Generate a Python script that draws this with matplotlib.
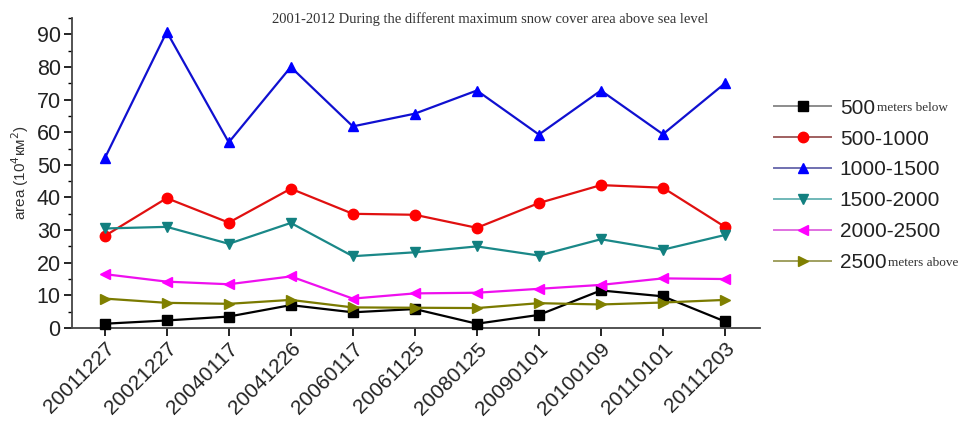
import matplotlib
matplotlib.use("Agg")
import matplotlib.pyplot as plt
from matplotlib.lines import Line2D
from matplotlib.ticker import MultipleLocator

dates = ["20011227", "20021227", "20040117", "20041226", "20060117", "20061125",
         "20080125", "20090101", "20100109", "20110101", "20111203"]

below_500 = [1.3, 2.3, 3.5, 7.0, 4.8, 5.8, 1.3, 4.0, 11.5, 9.7, 2.0]
m500_1000 = [28.2, 39.8, 32.3, 42.7, 35.0, 34.7, 30.7, 38.3, 43.8, 43.0, 31.0]
m1000_1500 = [52.0, 90.8, 56.9, 80.0, 61.8, 65.7, 72.8, 59.3, 72.8, 59.4, 75.0]
m1500_2000 = [30.5, 31.0, 25.8, 32.2, 22.0, 23.2, 25.0, 22.2, 27.2, 24.0, 28.5]
m2000_2500 = [16.5, 14.2, 13.4, 15.8, 9.0, 10.6, 10.8, 12.0, 13.2, 15.2, 15.0]
above_2500 = [9.0, 7.7, 7.4, 8.6, 6.3, 6.2, 6.1, 7.6, 7.2, 7.8, 8.6]

labels = ["500", "500-1000", "1000-1500", "1500-2000", "2000-2500", "2500"]
series = [below_500, m500_1000, m1000_1500, m1500_2000, m2000_2500, above_2500]
colors = ["#000000", "#e01010", "#1010d0", "#1a8888", "#ee10ee", "#7a7a00"]
marker_colors = ["#000000", "#ff0000", "#0000ff", "#128080", "#ff00ff", "#808000"]
legend_line_colors = ["#8c8c8c", "#a06060", "#7070b0", "#70b8b8", "#e070e0", "#a0a060"]
markers = ["s", "o", "^", "v", "<", ">"]

plt.rcParams["font.family"] = ["Liberation Sans", "DejaVu Sans"]

fig = plt.figure(figsize=(9.71, 4.21), dpi=100)
ax = fig.add_axes([0.074, 0.221, 0.709, 0.736])

x = list(range(len(dates)))
for vals, c, mc, m in zip(series, colors, marker_colors, markers):
    ax.plot(x, vals, color=c, lw=1.6, marker=m, markersize=7.5,
            markerfacecolor=mc, markeredgecolor=mc, clip_on=False, zorder=3)

ax.set_xlim(-0.53, 10.57)
ax.set_ylim(0, 95)
ax.set_xticks(x)
ax.set_xticklabels(dates, rotation=45, ha="right", rotation_mode="anchor",
                   fontsize=15, color="#222222")
ax.yaxis.set_major_locator(MultipleLocator(10))
ax.yaxis.set_minor_locator(MultipleLocator(5))
ax.tick_params(axis="y", labelsize=15.5, labelcolor="#222222", length=6, width=1.2, pad=2)
ax.tick_params(axis="y", which="minor", length=3, width=1)
ax.tick_params(axis="x", length=6, width=1.2, pad=2)
for s in ["top", "right"]:
    ax.spines[s].set_visible(False)
for s in ["left", "bottom"]:
    ax.spines[s].set_linewidth(1.3)
    ax.spines[s].set_color("#444444")

ax.set_ylabel("area (10$^4$км$^2$)", fontsize=11, color="#333333", labelpad=4)

fig.text(0.505, 0.955, "2001-2012 During the different maximum snow cover area above sea level",
         ha="center", va="center", fontsize=10.5, family="Liberation Serif", color="#333333")

handles = [Line2D([0], [0], color=lc, lw=1.4, marker=m, markersize=7.5,
                  markerfacecolor=mc, markeredgecolor=mc)
           for lc, mc, m in zip(legend_line_colors, marker_colors, markers)]
leg = fig.legend(handles, labels, loc="upper left", bbox_to_anchor=(0.778, 0.81),
                 frameon=False, fontsize=15, handlelength=2.75, handletextpad=0.4,
                 labelspacing=0.57)
for t in leg.get_texts():
    t.set_color("#222222")

fig.canvas.draw()
inv = fig.transFigure.inverted()
for idx, extra in [(0, "meters below"), (5, "meters above")]:
    bb = leg.get_texts()[idx].get_window_extent()
    x0, y0 = inv.transform((bb.x1 + 2, (bb.y0 + bb.y1) / 2))
    fig.text(x0, y0, extra, ha="left", va="center", fontsize=9.5,
             family="Liberation Serif", color="#333333")

fig.savefig("out.png", dpi=100)
